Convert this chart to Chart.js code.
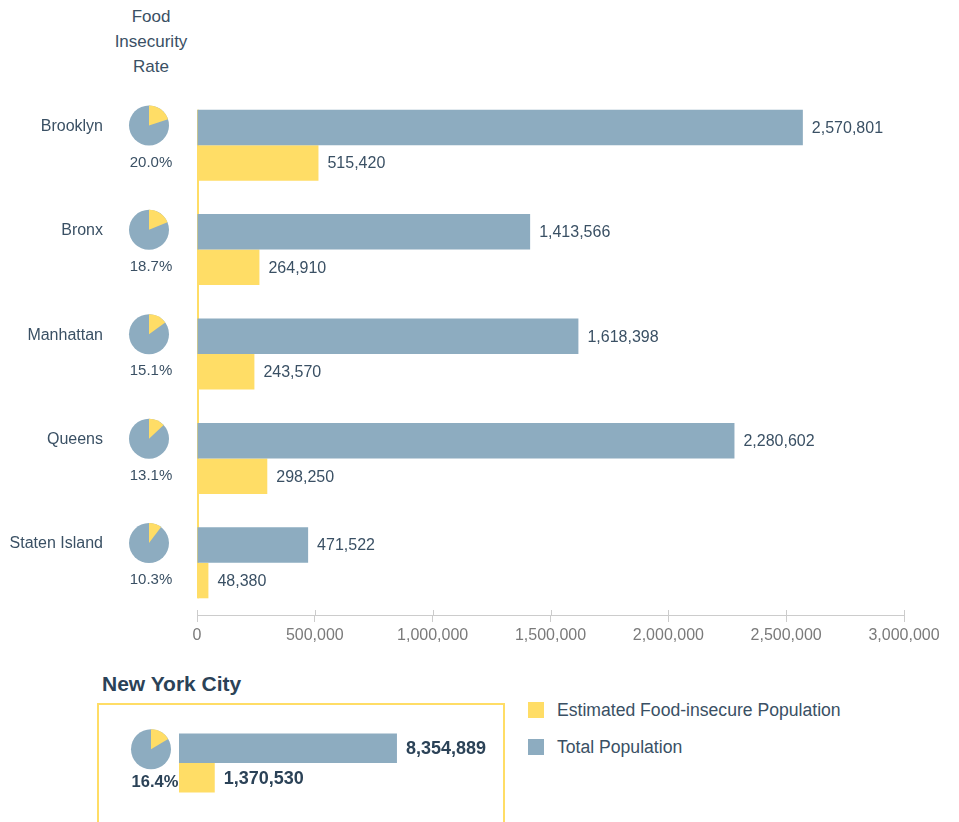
<!DOCTYPE html>
<html>
<head>
<meta charset="utf-8">
<script src="https://cdn.jsdelivr.net/npm/chart.js@4.4.0/dist/chart.umd.min.js"></script>
<style>
  html, body { margin: 0; padding: 0; background: #fff; overflow: hidden; }
  body { width: 959px; height: 822px; position: relative; font-family: "Liberation Sans", Arial, Helvetica, sans-serif; color: #3a5064; }
  #head { position: absolute; left: 101px; top: 4px; width: 100px; text-align: center; font-size: 17px; line-height: 25px; }
  #mainWrap { position: absolute; left: 0; top: 0; width: 959px; height: 660px; }
  #nycTitle { position: absolute; left: 102px; top: 672px; font-size: 21px; font-weight: bold; color: #2b4257; }
  #nycBox { position: absolute; left: 97px; top: 703px; width: 404px; height: 140px; border: 2px solid #ffdd66; }
  #nycWrap { position: absolute; left: 100px; top: 720px; width: 420px; height: 86px; }
  .leg { position: absolute; left: 528px; font-size: 17.6px; line-height: 20px; }
  .leg span { position: absolute; left: 0; top: 2px; width: 16px; height: 16px; }
  .leg div { position: absolute; left: 29px; top: 0; white-space: nowrap; }
</style>
</head>
<body>
<div id="head">Food<br>Insecurity<br>Rate</div>
<div id="mainWrap"><canvas id="main"></canvas></div>
<div id="nycTitle">New York City</div>
<div id="nycBox"></div>
<div id="nycWrap"><canvas id="nyc"></canvas></div>
<div class="leg" style="top:700px"><span id="legY"></span><div id="legYt"></div></div>
<div class="leg" style="top:737px"><span id="legB"></span><div id="legBt"></div></div>
<script>
// borough data
const boroughs = ['Brooklyn', 'Bronx', 'Manhattan', 'Queens', 'Staten Island'];
const totalPop = [2570801, 1413566, 1618398, 2280602, 471522];
const insecurePop = [515420, 264910, 243570, 298250, 48380];
const insecureRate = [20.0, 18.7, 15.1, 13.1, 10.3];

// city totals
const nycTotal = [8354889];
const nycInsecure = [1370530];
const nycRate = [16.4];

const seriesNames = ['Total Population', 'Estimated Food-insecure Population'];
const xMax = 3000000;
const xStep = 500000;

const BLUE = '#8dacc0';
const YELLOW = '#ffdd66';
const TEXT = '#3a5064';
const DARK = '#2b4257';
const FONT = '"Liberation Sans", Arial, Helvetica, sans-serif';

Chart.defaults.font.family = FONT;
Chart.defaults.animation = false;

const fmt = v => Number(v).toLocaleString('en-US');

function drawPie(ctx, cx, cy, r, rate) {
  ctx.save();
  ctx.beginPath();
  ctx.arc(cx, cy, r, 0, Math.PI * 2);
  ctx.fillStyle = BLUE;
  ctx.fill();
  const a0 = -Math.PI / 2;
  const a1 = a0 + Math.PI * 2 * rate / 100;
  ctx.beginPath();
  ctx.moveTo(cx, cy);
  ctx.arc(cx, cy, r, a0, a1);
  ctx.closePath();
  ctx.fillStyle = YELLOW;
  ctx.fill();
  ctx.restore();
}

// draws the value labels at the end of each bar
function drawValues(chart, font, color) {
  const ctx = chart.ctx;
  ctx.save();
  ctx.font = font;
  ctx.fillStyle = color;
  ctx.textAlign = 'left';
  ctx.textBaseline = 'middle';
  chart.data.datasets.forEach((ds, di) => {
    chart.getDatasetMeta(di).data.forEach((bar, i) => {
      ctx.fillText(fmt(ds.data[i]), bar.x + 9, bar.y + 1);
    });
  });
  ctx.restore();
}

const sidePlugin = {
  id: 'side',
  beforeDatasetsDraw(chart) {
    // yellow axis line from top bar to bottom bar
    const ctx = chart.ctx;
    const top = chart.getDatasetMeta(0).data[0];
    const last = chart.getDatasetMeta(1).data[boroughs.length - 1];
    const x0 = chart.scales.x.getPixelForValue(0);
    ctx.save();
    ctx.strokeStyle = YELLOW;
    ctx.lineWidth = 2;
    ctx.beginPath();
    ctx.moveTo(x0 + 1, top.y - top.height / 2);
    ctx.lineTo(x0 + 1, last.y + last.height / 2);
    ctx.stroke();
    ctx.restore();
  },
  afterDraw(chart) {
    const ctx = chart.ctx;
    const xs = chart.scales.x;
    // tick stubs above the axis line
    ctx.save();
    ctx.strokeStyle = '#cccccc';
    ctx.lineWidth = 1;
    xs.ticks.forEach(t => {
      const px = Math.round(xs.getPixelForValue(t.value)) + 0.5;
      ctx.beginPath();
      ctx.moveTo(px, xs.top - 5);
      ctx.lineTo(px, xs.top);
      ctx.stroke();
    });
    ctx.restore();

    drawValues(chart, '16px ' + FONT, TEXT);

    const meta = chart.getDatasetMeta(0);
    boroughs.forEach((name, i) => {
      const cy = meta.data[i].y;
      ctx.save();
      ctx.fillStyle = TEXT;
      ctx.font = '16px ' + FONT;
      ctx.textAlign = 'right';
      ctx.textBaseline = 'middle';
      ctx.fillText(name, 103, cy - 1);
      drawPie(ctx, 149, cy - 2, 20, insecureRate[i]);
      ctx.fillStyle = TEXT;
      ctx.font = '15px ' + FONT;
      ctx.textAlign = 'center';
      ctx.fillText(insecureRate[i].toFixed(1) + '%', 151, cy + 35);
      ctx.restore();
    });
  }
};

new Chart(document.getElementById('main'), {
  type: 'bar',
  data: {
    labels: boroughs,
    datasets: [
      { label: seriesNames[0], data: totalPop, backgroundColor: BLUE },
      { label: seriesNames[1], data: insecurePop, backgroundColor: YELLOW }
    ]
  },
  options: {
    indexAxis: 'y',
    responsive: true,
    maintainAspectRatio: false,
    datasets: { bar: { categoryPercentage: 0.68, barPercentage: 1.0 } },
    layout: { padding: { left: 197, right: 55, top: 93, bottom: 0 } },
    plugins: { legend: { display: false }, tooltip: { enabled: false } },
    scales: {
      y: { display: false },
      x: {
        min: 0,
        max: xMax,
        afterFit(scale) { scale.height = 45; },
        border: { color: '#cccccc' },
        grid: { drawOnChartArea: false, color: '#cccccc', tickLength: 7 },
        ticks: { stepSize: xStep, color: '#7a7a7a', font: { size: 16 }, padding: 4, maxRotation: 0,
                 callback: v => fmt(v) }
      }
    }
  },
  plugins: [sidePlugin]
});

const nycPlugin = {
  id: 'nycSide',
  afterDraw(chart) {
    const ctx = chart.ctx;
    drawValues(chart, 'bold 18px ' + FONT, DARK);
    const cy = chart.getDatasetMeta(0).data[0].y;
    drawPie(ctx, 51, cy + 1, 20, nycRate[0]);
    ctx.save();
    ctx.fillStyle = DARK;
    ctx.font = 'bold 16.5px ' + FONT;
    ctx.textAlign = 'center';
    ctx.textBaseline = 'middle';
    ctx.fillText(nycRate[0].toFixed(1) + '%', 55, cy + 34);
    ctx.restore();
  }
};

new Chart(document.getElementById('nyc'), {
  type: 'bar',
  data: {
    labels: ['New York City'],
    datasets: [
      { label: seriesNames[0], data: nycTotal, backgroundColor: BLUE },
      { label: seriesNames[1], data: nycInsecure, backgroundColor: YELLOW }
    ]
  },
  options: {
    indexAxis: 'y',
    responsive: true,
    maintainAspectRatio: false,
    datasets: { bar: { categoryPercentage: 0.686, barPercentage: 1.0 } },
    layout: { padding: { left: 79, right: 41, top: 0, bottom: 0 } },
    plugins: { legend: { display: false }, tooltip: { enabled: false } },
    scales: {
      y: { display: false },
      x: { display: false, min: 0, max: 11500000 }
    }
  },
  plugins: [nycPlugin]
});

// legend, yellow series first like the original
document.getElementById('legY').style.background = YELLOW;
document.getElementById('legYt').textContent = seriesNames[1];
document.getElementById('legB').style.background = BLUE;
document.getElementById('legBt').textContent = seriesNames[0];
</script>
</body>
</html>
